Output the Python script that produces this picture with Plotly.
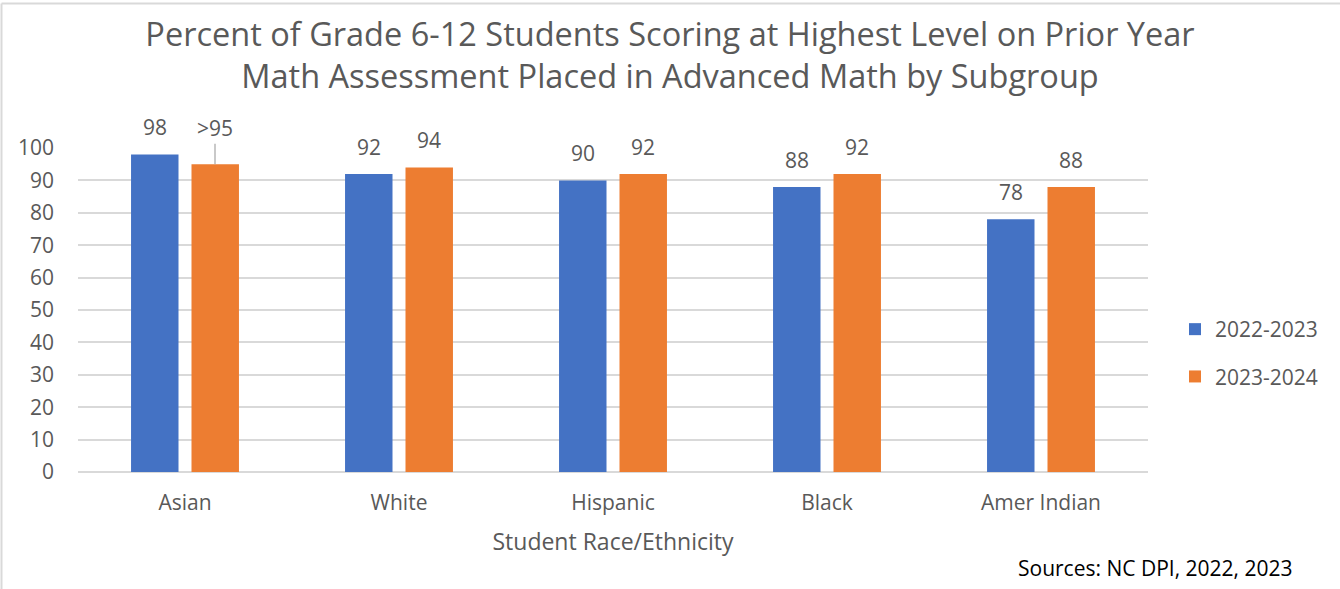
import plotly.graph_objects as go

categories = ["Asian", "White", "Hispanic", "Black", "Amer Indian"]
series_names = ["2022-2023", "2023-2024"]
values_2223 = [98, 92, 90, 88, 78]
values_2324 = [95, 94, 92, 92, 88]
labels_2223 = ["98", "92", "90", "88", "78"]
labels_2324 = [">95", "94", "92", "92", "88"]

BLUE = "#4472C4"
ORANGE = "#ED7D31"
GRAY_TXT = "#595959"
GRID = "#D9D9D9"
FONT = "Open Sans"

W, H = 1340, 589
L, R, T, B = 78, 192, 148, 117
pw, ph = W - L - R, H - T - B


def px_x(x):
    return (x - L) / pw


def px_y(y):
    return (H - B - y) / ph


fig = go.Figure()
for name, vals, col in [(series_names[0], values_2223, BLUE),
                        (series_names[1], values_2324, ORANGE)]:
    fig.add_trace(go.Bar(
        x=categories, y=vals, name=name, legendgroup=name,
        marker=dict(color=col, line=dict(width=0)),
    ))

# data labels (the Asian 2023-2024 label is lifted with a leader line)
for labs, vals, shift in [(labels_2223, values_2223, -30), (labels_2324, values_2324, 30)]:
    for cat, lab, v in zip(categories, labs, vals):
        if lab.startswith(">"):
            fig.add_annotation(
                x=cat, y=v, xref="x", yref="y", xshift=shift,
                text=lab, showarrow=True, arrowhead=0, arrowwidth=1.2, arrowcolor="#A6A6A6",
                ax=0, ay=-36, standoff=0,
                font=dict(size=21, color=GRAY_TXT, family=FONT),
            )
        else:
            fig.add_annotation(
                x=cat, y=v, xref="x", yref="y", xshift=shift, yshift=11,
                text=lab, showarrow=False, yanchor="bottom",
                font=dict(size=21, color=GRAY_TXT, family=FONT),
            )

fig.add_annotation(
    x=px_x(1295), y=px_y(568), xref="paper", yref="paper",
    text="Sources: NC DPI, 2022, 2023", showarrow=False, xanchor="right", yanchor="middle",
    font=dict(size=21, color="#000000", family=FONT),
)

# chart border (top and left edges visible)
fig.add_shape(type="line", xref="paper", yref="paper", x0=px_x(1.5), x1=px_x(1340), y0=px_y(3.5), y1=px_y(3.5),
              line=dict(color=GRID, width=2))
fig.add_shape(type="line", xref="paper", yref="paper", x0=px_x(1.5), x1=px_x(1.5), y0=px_y(3.5), y1=px_y(589),
              line=dict(color=GRID, width=2))

fig.update_layout(
    width=W, height=H,
    margin=dict(l=L, r=R, t=T, b=B),
    paper_bgcolor="white", plot_bgcolor="white",
    barmode="group", bargap=0.435, bargroupgap=0.215,
    title=dict(
        text="Percent of Grade 6-12 Students Scoring at Highest Level on Prior Year<br>Math Assessment Placed in Advanced Math by Subgroup",
        x=0.5, xanchor="center", y=1 - 46 / H, yanchor="middle",
        font=dict(size=32.5, color=GRAY_TXT, family=FONT),
    ),
    font=dict(family=FONT, color=GRAY_TXT, size=21),
    legend=dict(x=px_x(1175), y=px_y(353), xanchor="left", yanchor="middle",
                font=dict(size=21, color=GRAY_TXT), tracegroupgap=17),
    showlegend=True,
)
fig.update_xaxes(
    title=dict(text="Student Race/Ethnicity", font=dict(size=23, color=GRAY_TXT), standoff=18),
    tickfont=dict(size=21, color=GRAY_TXT), showline=False, ticks="", showgrid=False,
    ticklabelstandoff=16,
)
fig.update_yaxes(
    range=[0, 100], dtick=10, showgrid=True, gridcolor=GRID, gridwidth=1.5,
    zeroline=True, zerolinecolor=GRID, zerolinewidth=1.5,
    tickfont=dict(size=21, color=GRAY_TXT), ticks="", showline=False, ticklabelstandoff=23,
)

fig.write_html("out.html", config={"displayModeBar": False},
               post_script="document.body.style.margin='0';")
